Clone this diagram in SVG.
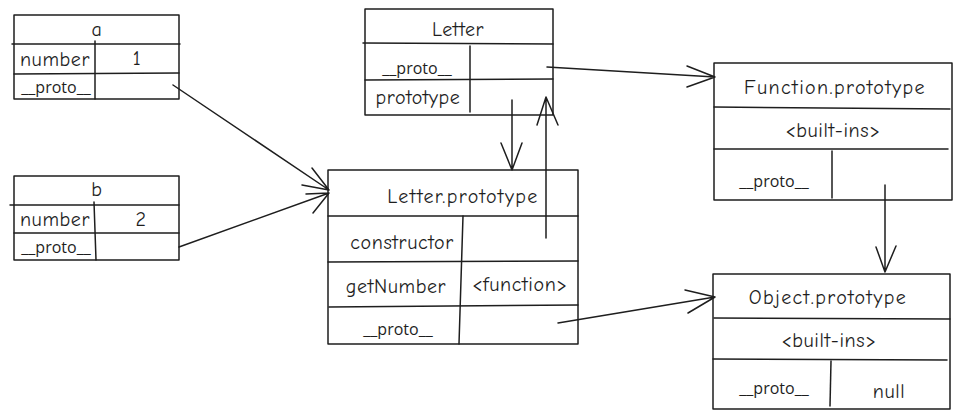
<svg xmlns="http://www.w3.org/2000/svg" width="963" height="420" viewBox="0 0 963 420">
<style>
.box{fill:none;stroke:#1e1e1e;stroke-width:1.5;stroke-linejoin:round}
.ln{stroke:#1e1e1e;stroke-width:1.5;fill:none;stroke-linecap:round}
.t{font-family:"Comic Neue","Noto Sans","Liberation Sans",sans-serif;font-size:20px;letter-spacing:0.6px;fill:#1e1e1e;text-anchor:middle;dominant-baseline:central}
.w{letter-spacing:1.4px}
.p{font-family:"Open Sans","Liberation Sans",sans-serif;font-size:16px;fill:#1e1e1e;text-anchor:middle;dominant-baseline:central}
.c{stroke:#1e1e1e;stroke-width:1.5;fill:none;stroke-linecap:round;stroke-linejoin:round}
</style>
<rect width="963" height="420" fill="#ffffff"/>

<g id="node-a">
<rect class="box" x="14" y="15" width="165" height="84"/>
<line class="ln" x1="12" y1="44" x2="180" y2="44"/>
<line class="ln" x1="14" y1="74" x2="179" y2="73"/>
<line class="ln" x1="95" y1="41" x2="95" y2="99"/>
<text class="t" x="97" y="29">a</text>
<text class="t" x="55" y="59">number</text>
<text class="t" x="137" y="58">1</text>
<text class="p" x="56" y="87">__proto__</text>
</g>

<g id="node-b">
<rect class="box" x="14" y="176" width="165" height="84"/>
<line class="ln" x1="10" y1="205" x2="179" y2="205"/>
<line class="ln" x1="14" y1="233" x2="179" y2="233"/>
<line class="ln" x1="94" y1="202" x2="96" y2="260"/>
<text class="t" x="97" y="189">b</text>
<text class="t" x="55" y="219">number</text>
<text class="t" x="141" y="219">2</text>
<text class="p" x="56" y="247">__proto__</text>
</g>

<g id="node-letter">
<rect class="box" x="365" y="9" width="188" height="106"/>
<line class="ln" x1="363" y1="43" x2="553" y2="44"/>
<line class="ln" x1="365" y1="80" x2="553" y2="79"/>
<line class="ln" x1="470" y1="46" x2="470" y2="112"/>
<text class="t" x="458" y="29">Letter</text>
<text class="p" x="417" y="68">__proto__</text>
<text class="t" x="418" y="97">prototype</text>
</g>

<g id="node-letter-prototype">
<rect class="box" x="328" y="170" width="250" height="174"/>
<line class="ln" x1="328" y1="216" x2="578" y2="216"/>
<line class="ln" x1="328" y1="262" x2="578" y2="261"/>
<line class="ln" x1="329" y1="307" x2="578" y2="305"/>
<line class="ln" x1="463" y1="216" x2="459" y2="344"/>
<text class="t w" x="463" y="196">Letter.prototype</text>
<text class="t" x="402" y="242">constructor</text>
<text class="t" x="396" y="286">getNumber</text>
<text class="t" x="520" y="284">&lt;function&gt;</text>
<text class="p" x="398" y="329">__proto__</text>
</g>

<g id="node-function-prototype">
<rect class="box" x="714" y="63" width="238" height="137"/>
<line class="ln" x1="714" y1="107" x2="950" y2="109"/>
<line class="ln" x1="714" y1="149" x2="948" y2="149"/>
<line class="ln" x1="832" y1="151" x2="832" y2="198"/>
<text class="t w" x="835" y="87">Function.prototype</text>
<text class="t" x="833" y="130">&lt;built-ins&gt;</text>
<text class="p" x="774" y="181">__proto__</text>
</g>

<g id="node-object-prototype">
<rect class="box" x="713" y="274" width="237" height="135"/>
<line class="ln" x1="714" y1="318" x2="950" y2="319"/>
<line class="ln" x1="713" y1="359" x2="947" y2="360"/>
<line class="ln" x1="831" y1="361" x2="830" y2="406"/>
<text class="t w" x="828" y="297">Object.prototype</text>
<text class="t" x="829" y="340">&lt;built-ins&gt;</text>
<text class="p" x="774" y="388">__proto__</text>
<text class="t" x="889" y="391">null</text>
</g>

<g id="connectors">
<path class="c" d="M173 85 L329 190 M312 168 L329 190 L302 185"/>
<path class="c" d="M179 247 L329 193 M306 194 L329 193 L313 213"/>
<path class="c" d="M547 67 L715 77 M687 66 L715 77 L687 87"/>
<path class="c" d="M512 100 L512 170 M501 143 L512 170 L522 143"/>
<path class="c" d="M546 238 L546 97 M537 125 L546 97 L558 125"/>
<path class="c" d="M558 323 L715 297 M685 290 L715 297 L688 313"/>
<path class="c" d="M885 185 L885 272 M876 247 L885 272 L896 246"/>
</g>
</svg>
